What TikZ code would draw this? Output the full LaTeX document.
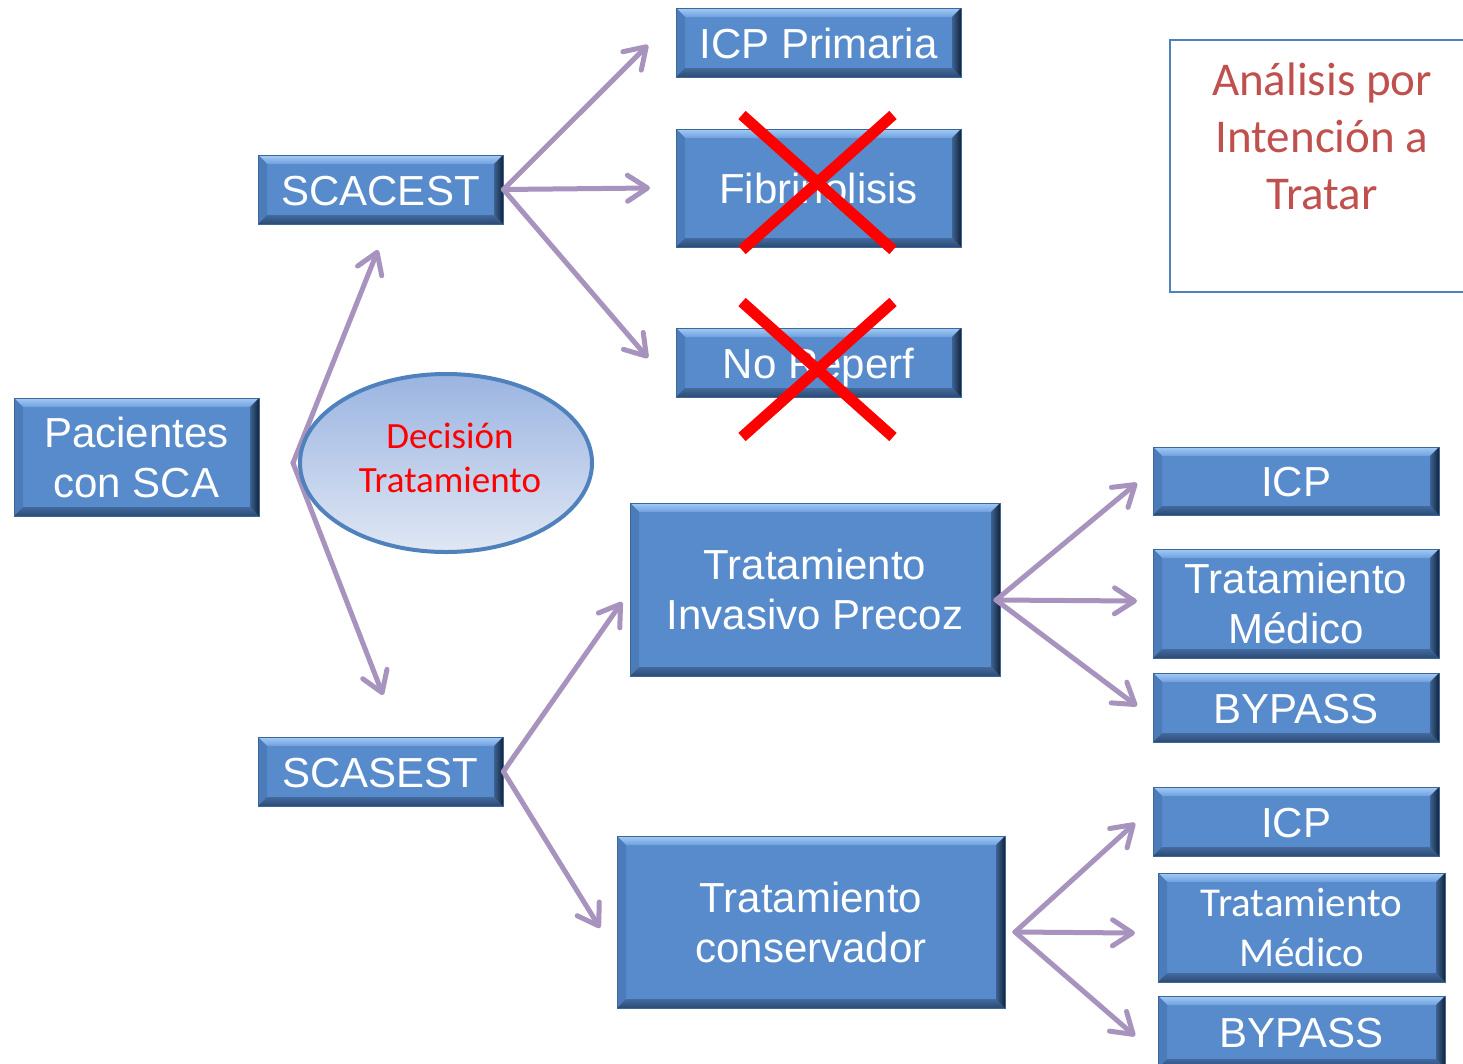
\documentclass[tikz,border=0pt]{standalone}
\usepackage{fontspec}
\setmainfont{Liberation Sans}
\newfontfamily\calfont{Carlito}
\usetikzlibrary{arrows.meta,shapes.geometric}
\definecolor{boxblue}{HTML}{588BCB}
\definecolor{boxedge}{HTML}{3E6697}
\definecolor{bvtopA}{HTML}{A3CBF6}
\definecolor{bvtopB}{HTML}{6E9FDD}
\definecolor{bvleft}{HTML}{4B7CB9}
\definecolor{bvbotA}{HTML}{426A9E}
\definecolor{bvbotB}{HTML}{2C4A72}
\definecolor{bvrightA}{HTML}{3C6394}
\definecolor{bvrightB}{HTML}{14233A}
\definecolor{arrowc}{HTML}{A893BE}
\definecolor{elltop}{HTML}{9AB4E1}
\definecolor{ellbot}{HTML}{E0E7F4}
\definecolor{ellline}{HTML}{4F81BD}
\definecolor{notered}{HTML}{C0504D}
\newcommand{\bvw}{9pt}
\tikzset{
  bevelbox/.style={rectangle, draw=boxedge, line width=0.8pt, fill=boxblue,
    text=white, align=center, inner sep=0pt,
    font=\fontsize{42}{50}\selectfont,
    path picture={
      \path (path picture bounding box.north west) coordinate (bvnw)
            (path picture bounding box.north east) coordinate (bvne)
            (path picture bounding box.south west) coordinate (bvsw)
            (path picture bounding box.south east) coordinate (bvse);
      \shade[top color=bvtopA, bottom color=bvtopB]
        (bvnw) -- (bvne) -- ([shift={(-\bvw,-\bvw)}]bvne) -- ([shift={(\bvw,-\bvw)}]bvnw) -- cycle;
      \fill[bvleft]
        (bvnw) -- ([shift={(\bvw,-\bvw)}]bvnw) -- ([shift={(\bvw,\bvw)}]bvsw) -- (bvsw) -- cycle;
      \shade[top color=bvbotA, bottom color=bvbotB]
        (bvsw) -- ([shift={(\bvw,\bvw)}]bvsw) -- ([shift={(-\bvw,\bvw)}]bvse) -- (bvse) -- cycle;
      \shade[left color=bvrightA, right color=bvrightB]
        (bvne) -- (bvse) -- ([shift={(-\bvw,\bvw)}]bvse) -- ([shift={(-\bvw,-\bvw)}]bvne) -- cycle;
    }},
  oneline/.style={text height=31pt, text depth=0pt},
  arr/.style={draw=arrowc, line width=5pt, line cap=round, line join=round,
    -{Straight Barb[length=20pt,width=26pt,round]}},
  crossline/.style={draw=red, line width=11pt},
}
\begin{document}
\begin{tikzpicture}[x=1pt,y=-1pt]
\clip (0,0) rectangle (1463,1063);
\fill[white] (0,0) rectangle (1463,1063);

% boxes
\node[bevelbox, minimum width=245pt, minimum height=118pt] (pac) at (136.5,457) {Pacientes\\con SCA};
\node[bevelbox, oneline, minimum width=245pt, minimum height=69pt] (scacest) at (380.5,189.5) {SCACEST};
\node[bevelbox, oneline, minimum width=245pt, minimum height=69pt] (scasest) at (380.5,771.5) {SCASEST};
\node[bevelbox, oneline, minimum width=285pt, minimum height=69pt] (icpp) at (818.5,42.5) {ICP Primaria};
\node[bevelbox, oneline, minimum width=285pt, minimum height=118pt] (fib) at (818.5,188) {Fibrinolisis};
\node[bevelbox, oneline, minimum width=285pt, minimum height=69pt] (norep) at (818.5,362.5) {No Reperf};
\node[bevelbox, minimum width=370pt, minimum height=173pt] (tip) at (815,589.5) {Tratamiento\\Invasivo Precoz};
\node[bevelbox, minimum width=388pt, minimum height=172pt] (tcons) at (811,922) {Tratamiento\\conservador};
\node[bevelbox, oneline, minimum width=286pt, minimum height=68pt] (icpa) at (1296,481) {ICP};
\node[bevelbox, minimum width=286pt, minimum height=109pt] (tma) at (1296,603.5) {Tratamiento\\Médico};
\node[bevelbox, oneline, minimum width=286pt, minimum height=69pt] (bypa) at (1296,707.5) {BYPASS};
\node[bevelbox, oneline, minimum width=286pt, minimum height=69pt] (icpb) at (1296,821.5) {ICP};
\node[bevelbox, minimum width=287pt, minimum height=109pt,
      font=\calfont\fontsize{41}{50}\selectfont] (tmb) at (1301.5,927.5) {Tratamiento\\Médico};
\node[bevelbox, oneline, minimum width=287pt, minimum height=72pt] (bypb) at (1301.5,1032) {BYPASS};

% note box
\node[draw=ellline, line width=2pt, minimum width=310pt, minimum height=252pt, inner sep=0pt] (nota) at (1325,166) {};
\node[text=notered, align=center, font=\calfont\fontsize{47}{57}\selectfont] (notatext) at (1322,136) {Análisis por\\Intención a\\Tratar};

% free ends
\coordinate (fork) at (293,463);
\coordinate (e1) at (648,45);
\coordinate (e2) at (650,188);
\coordinate (e3) at (648,358);
\coordinate (e4) at (378,250);
\coordinate (e5) at (383,695);
\coordinate (e6) at (622,602);
\coordinate (e7) at (600,928);
\coordinate (oa) at (996,600);
\coordinate (a1) at (1137,483);
\coordinate (a2) at (1137,601);
\coordinate (a3) at (1137,706);
\coordinate (ob) at (1015,932);
\coordinate (b1) at (1135,823);
\coordinate (b2) at (1135,933);
\coordinate (b3) at (1135,1036);

% arrows
\draw[arr] (fork) -- (e4);
\draw[arr] (fork) -- (e5);
\draw[arr] (scacest.east) -- (e1);
\draw[arr] (scacest.east) -- (e2);
\draw[arr] (scacest.east) -- (e3);
\draw[arr] (scasest.east) -- (e6);
\draw[arr] (scasest.east) -- (e7);
\draw[arr] (oa) -- (a1);
\draw[arr] (oa) -- (a2);
\draw[arr] (oa) -- (a3);
\draw[arr] (ob) -- (b1);
\draw[arr] (ob) -- (b2);
\draw[arr] (ob) -- (b3);

% decision ellipse
\node[ellipse, draw=ellline, line width=4pt, top color=elltop, bottom color=ellbot,
      minimum width=292pt, minimum height=178pt, inner sep=0pt] (dec) at (446,463) {};
\node[text=red, align=center, font=\calfont\fontsize{37}{44}\selectfont] (dectext) at (450,458) {Decisión\\Tratamiento};

% crosses
\coordinate (c1a) at (742,115);
\coordinate (c1b) at (893,250);
\coordinate (c1c) at (893,115);
\coordinate (c1d) at (742,250);
\coordinate (c2a) at (742,302);
\coordinate (c2b) at (893,437);
\coordinate (c2c) at (893,302);
\coordinate (c2d) at (742,437);
\draw[crossline] (c1a) -- (c1b);
\draw[crossline] (c1c) -- (c1d);
\draw[crossline] (c2a) -- (c2b);
\draw[crossline] (c2c) -- (c2d);
\end{tikzpicture}
\end{document}
